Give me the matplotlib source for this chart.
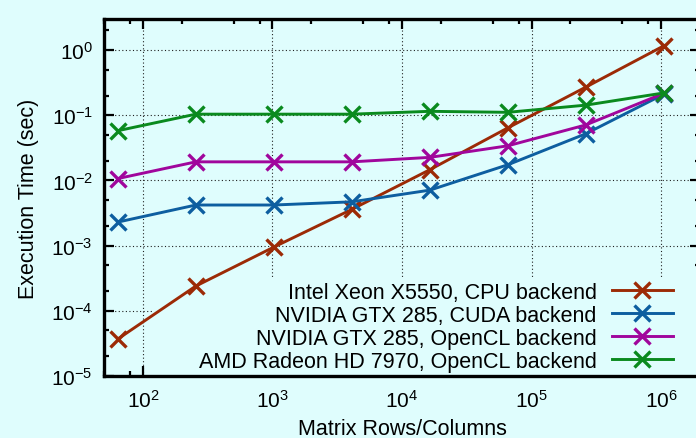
import numpy as np
import matplotlib
matplotlib.use('Agg')
import matplotlib.pyplot as plt
from matplotlib.patches import Rectangle
from matplotlib.ticker import LogLocator, NullFormatter, LogFormatterMathtext

plt.rcParams['font.family'] = ['Liberation Sans', 'DejaVu Sans']
plt.rcParams['mathtext.fontset'] = 'custom'
plt.rcParams['mathtext.rm'] = 'Liberation Sans'
plt.rcParams['mathtext.it'] = 'Liberation Sans'

sizes = [64, 256, 1024, 4096, 16384, 65536, 262144, 1048576]

cpu = [3.7e-5, 2.4e-4, 9.5e-4, 3.6e-3, 0.0146, 0.064, 0.27, 1.16]
cuda = [2.3e-3, 4.2e-3, 4.2e-3, 4.7e-3, 7.1e-3, 0.0174, 0.052, 0.21]
ocl_nv = [0.0107, 0.0193, 0.0193, 0.0193, 0.0226, 0.034, 0.071, 0.217]
ocl_amd = [0.058, 0.104, 0.104, 0.104, 0.115, 0.111, 0.143, 0.22]

labels = ['Intel Xeon X5550, CPU backend',
          'NVIDIA GTX 285, CUDA backend',
          'NVIDIA GTX 285, OpenCL backend',
          'AMD Radeon HD 7970, OpenCL backend']
colors = ['#9c2a06', '#0d5ea0', '#a0069c', '#0a8a1e']

bg = '#dffdfd'

# plot area in pixels (left, right, top, bottom); right border falls just off the image
L, R, T, B = 104, 700, 20, 377
W, H = 696, 439

fig = plt.figure(figsize=(W / 100, H / 100), dpi=100, facecolor=bg)
ax = fig.add_axes([L / W, 1 - B / H, (R - L) / W, (B - T) / H])
ax.set_facecolor(bg)
ax.set_axisbelow(True)

for ys, lab, c in zip([cpu, cuda, ocl_nv, ocl_amd], labels, colors):
    ax.plot(sizes, ys, color=c, lw=2.1, marker='x', ms=11, mew=2.4, label=lab, zorder=3)

ax.set_xscale('log')
ax.set_yscale('log')
ax.set_xlim(50, 2e6)
ax.set_ylim(1e-5, 3)

ax.xaxis.set_major_locator(LogLocator(base=10, numticks=20))
ax.xaxis.set_minor_locator(LogLocator(base=10, subs=[2, 5, 8], numticks=20))
ax.yaxis.set_major_locator(LogLocator(base=10, numticks=20))
ax.yaxis.set_minor_locator(LogLocator(base=10, subs=[2, 5], numticks=20))
ax.xaxis.set_minor_formatter(NullFormatter())
ax.yaxis.set_minor_formatter(NullFormatter())
ax.xaxis.set_major_formatter(LogFormatterMathtext())
ax.yaxis.set_major_formatter(LogFormatterMathtext())

for s in ax.spines.values():
    s.set_linewidth(2.4)
    s.set_zorder(5)
ax.tick_params(which='both', direction='in', top=True, right=True, labelsize=15)
ax.tick_params(which='major', length=7.5, width=1.6)
ax.tick_params(which='minor', length=3.8, width=1.6)
ax.tick_params(axis='y', which='major', pad=8)
ax.tick_params(axis='x', which='major', pad=9)

ax.grid(True, which='major', color='#202020', linestyle=(0, (1, 2.2)), lw=0.8)

# opaque key area hides the grid but not the curves
key_bg = Rectangle(((153 - L) / (R - L), 0), 1, (B - 278) / (B - T), transform=ax.transAxes,
                   facecolor=bg, edgecolor='none', zorder=1)
ax.add_patch(key_bg)

ax.set_xlabel('Matrix Rows/Columns', fontsize=15.5)
ax.xaxis.set_label_coords(0.5, -(430 - B) / (B - T), transform=ax.transAxes)
ax.xaxis.label.set_va('center')
ax.set_ylabel('Execution Time (sec)', fontsize=15.5)
ax.yaxis.set_label_coords(-(L - 28) / (R - L), 0.5)
ax.yaxis.label.set_va('center')

leg = ax.legend(loc='lower right', bbox_to_anchor=((673 - L) / (R - L), (B - 373) / (B - T)),
                frameon=False, fontsize=15.5, markerfirst=False, handlelength=2.84,
                handletextpad=0.7, labelspacing=0.1, borderpad=0, borderaxespad=0)
leg.set_zorder(4)
for t in leg.get_texts():
    t.set_ha('right')
leg._legend_box.align = 'right'

fig.savefig('out.png', dpi=100, facecolor=bg)
